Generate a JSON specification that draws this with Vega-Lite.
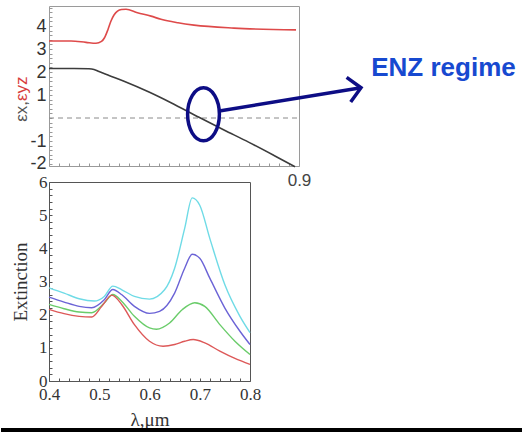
{
  "$schema": "https://vega.github.io/schema/vega-lite/v6.json",
  "autosize": {"type": "pad"},
  "padding": {"left": 0, "top": 5, "right": 0, "bottom": 0},
  "background": "white",
  "bounds": "flush",
  "spacing": 16,
  "resolve": {"scale": {"color": "independent"}},
  "config": {"axis": {"grid": false, "labelOverlap": false, "labelFlush": false}},
  "datasets": {
    "eps": [
      {"x": 0.4, "v": 2.15, "s": "ex"}, {"x": 0.45, "v": 2.15, "s": "ex"}, {"x": 0.48, "v": 2.14, "s": "ex"},
      {"x": 0.49, "v": 2.11, "s": "ex"}, {"x": 0.5, "v": 2.02, "s": "ex"}, {"x": 0.52, "v": 1.85, "s": "ex"},
      {"x": 0.55, "v": 1.6, "s": "ex"}, {"x": 0.6, "v": 1.13, "s": "ex"}, {"x": 0.644, "v": 0.665, "s": "ex"},
      {"x": 0.7, "v": 0.03, "s": "ex"}, {"x": 0.75, "v": -0.52, "s": "ex"}, {"x": 0.8, "v": -1.06, "s": "ex"},
      {"x": 0.85, "v": -1.63, "s": "ex"}, {"x": 0.892, "v": -2.12, "s": "ex"},
      {"x": 0.4, "v": 3.35, "s": "eyz"}, {"x": 0.444, "v": 3.35, "s": "eyz"}, {"x": 0.474, "v": 3.29, "s": "eyz"},
      {"x": 0.494, "v": 3.25, "s": "eyz"}, {"x": 0.505, "v": 3.33, "s": "eyz"}, {"x": 0.511, "v": 3.49, "s": "eyz"},
      {"x": 0.518, "v": 3.85, "s": "eyz"}, {"x": 0.524, "v": 4.22, "s": "eyz"}, {"x": 0.53, "v": 4.48, "s": "eyz"},
      {"x": 0.537, "v": 4.65, "s": "eyz"}, {"x": 0.545, "v": 4.72, "s": "eyz"}, {"x": 0.554, "v": 4.73, "s": "eyz"},
      {"x": 0.577, "v": 4.58, "s": "eyz"}, {"x": 0.604, "v": 4.43, "s": "eyz"}, {"x": 0.624, "v": 4.29, "s": "eyz"},
      {"x": 0.658, "v": 4.14, "s": "eyz"}, {"x": 0.69, "v": 4.04, "s": "eyz"}, {"x": 0.77, "v": 3.91, "s": "eyz"},
      {"x": 0.894, "v": 3.83, "s": "eyz"}
    ],
    "zero": [{"x": 0.4, "x2": 0.9, "v": 0}],
    "ellipse": [{"x": 0.709, "v": 0.161}],
    "arrow": [{"x": 0.7406, "v": 0.304}, {"x": 1.024, "v": 1.317}],
    "head": [{"x": 1.024, "v": 1.317}],
    "enz": [{"x": 1.189, "v": 1.813, "t": "ENZ regime"}],
    "ttl1": [{"x": 0.346, "v": 0.739, "t": "εx,"}],
    "ttl2": [{"x": 0.346, "v": 0.739, "t": "εyz"}],
    "ext": [
      {"x": 0.4, "v": 2.81, "s": "a"}, {"x": 0.43, "v": 2.65, "s": "a"}, {"x": 0.46, "v": 2.48, "s": "a"},
      {"x": 0.49, "v": 2.41, "s": "a"}, {"x": 0.51, "v": 2.55, "s": "a"}, {"x": 0.527, "v": 2.86, "s": "a"},
      {"x": 0.545, "v": 2.75, "s": "a"}, {"x": 0.57, "v": 2.55, "s": "a"}, {"x": 0.6, "v": 2.47, "s": "a"},
      {"x": 0.63, "v": 2.75, "s": "a"}, {"x": 0.65, "v": 3.4, "s": "a"}, {"x": 0.67, "v": 4.6, "s": "a"},
      {"x": 0.685, "v": 5.52, "s": "a"}, {"x": 0.7, "v": 5.3, "s": "a"}, {"x": 0.72, "v": 4.3, "s": "a"},
      {"x": 0.75, "v": 2.9, "s": "a"}, {"x": 0.78, "v": 1.95, "s": "a"}, {"x": 0.8, "v": 1.46, "s": "a"},
      {"x": 0.4, "v": 2.53, "s": "b"}, {"x": 0.43, "v": 2.38, "s": "b"}, {"x": 0.46, "v": 2.25, "s": "b"},
      {"x": 0.485, "v": 2.21, "s": "b"}, {"x": 0.51, "v": 2.45, "s": "b"}, {"x": 0.527, "v": 2.76, "s": "b"},
      {"x": 0.545, "v": 2.6, "s": "b"}, {"x": 0.57, "v": 2.25, "s": "b"}, {"x": 0.6, "v": 2.04, "s": "b"},
      {"x": 0.62, "v": 2.1, "s": "b"}, {"x": 0.65, "v": 2.65, "s": "b"}, {"x": 0.67, "v": 3.4, "s": "b"},
      {"x": 0.685, "v": 3.82, "s": "b"}, {"x": 0.7, "v": 3.7, "s": "b"}, {"x": 0.72, "v": 3.1, "s": "b"},
      {"x": 0.75, "v": 2.2, "s": "b"}, {"x": 0.78, "v": 1.5, "s": "b"}, {"x": 0.8, "v": 1.1, "s": "b"},
      {"x": 0.4, "v": 2.31, "s": "c"}, {"x": 0.43, "v": 2.18, "s": "c"}, {"x": 0.46, "v": 2.08, "s": "c"},
      {"x": 0.485, "v": 2.06, "s": "c"}, {"x": 0.51, "v": 2.35, "s": "c"}, {"x": 0.527, "v": 2.61, "s": "c"},
      {"x": 0.545, "v": 2.4, "s": "c"}, {"x": 0.57, "v": 1.95, "s": "c"}, {"x": 0.6, "v": 1.6, "s": "c"},
      {"x": 0.614, "v": 1.56, "s": "c"}, {"x": 0.64, "v": 1.75, "s": "c"}, {"x": 0.665, "v": 2.15, "s": "c"},
      {"x": 0.69, "v": 2.36, "s": "c"}, {"x": 0.71, "v": 2.25, "s": "c"}, {"x": 0.74, "v": 1.7, "s": "c"},
      {"x": 0.77, "v": 1.2, "s": "c"}, {"x": 0.8, "v": 0.8, "s": "c"},
      {"x": 0.4, "v": 2.16, "s": "d"}, {"x": 0.43, "v": 2.03, "s": "d"}, {"x": 0.46, "v": 1.95, "s": "d"},
      {"x": 0.485, "v": 1.93, "s": "d"}, {"x": 0.505, "v": 2.25, "s": "d"}, {"x": 0.525, "v": 2.59, "s": "d"},
      {"x": 0.545, "v": 2.3, "s": "d"}, {"x": 0.57, "v": 1.7, "s": "d"}, {"x": 0.6, "v": 1.2, "s": "d"},
      {"x": 0.627, "v": 1.05, "s": "d"}, {"x": 0.65, "v": 1.1, "s": "d"}, {"x": 0.67, "v": 1.2, "s": "d"},
      {"x": 0.687, "v": 1.25, "s": "d"}, {"x": 0.71, "v": 1.15, "s": "d"}, {"x": 0.74, "v": 0.9, "s": "d"},
      {"x": 0.77, "v": 0.68, "s": "d"}, {"x": 0.8, "v": 0.5, "s": "d"}
    ],
    "bar": [{"x": 0.30448, "x2": 1.34328, "v": -1.417, "v2": -1.568}]
  },
  "vconcat": [
    {
      "width": 250,
      "height": 160,
      "view": {"stroke": "#9a9a9a", "strokeWidth": 1},
      "encoding": {
        "x": {
          "field": "x", "type": "quantitative",
          "scale": {"domain": [0.4, 0.9], "nice": false, "zero": false},
          "axis": {
            "title": null, "domain": false,
            "values": [0.4,0.42,0.44,0.46,0.48,0.5,0.52,0.54,0.56,0.58,0.6,0.62,0.64,0.66,0.68,0.7,0.72,0.74,0.76,0.78,0.8,0.82,0.84,0.86,0.88,0.9],
            "labelExpr": "datum.value >= 0.899 ? '0.9' : ''",
            "labelFont": "Liberation Sans", "labelFontSize": 17, "labelColor": "#444",
            "tickSize": -3, "tickColor": "#999", "labelPadding": 9
          }
        },
        "y": {
          "field": "v", "type": "quantitative",
          "scale": {"domain": [-2.087, 4.87], "nice": false, "zero": false},
          "axis": {
            "title": null, "domain": false,
            "values": [-2,-1.8,-1.6,-1.4,-1.2,-1,-0.8,-0.6,-0.4,-0.2,0,0.2,0.4,0.6,0.8,1,1.2,1.4,1.6,1.8,2,2.2,2.4,2.6,2.8,3,3.2,3.4,3.6,3.8,4,4.2,4.4,4.6,4.8],
            "labelExpr": "(abs(datum.value - round(datum.value)) < 0.001 && datum.value != 0) ? '' + round(datum.value) : ''",
            "labelFont": "Liberation Sans",
            "labelFontSize": {"condition": {"test": "abs(datum.value - round(datum.value)) < 0.001 && datum.value != 0", "value": 18}, "value": 1},
            "labelColor": "#333",
            "tickSize": -3, "tickColor": "#999", "labelPadding": 6
          }
        }
      },
      "layer": [
        {
          "data": {"name": "zero"},
          "mark": {"type": "rule", "strokeDash": [5, 4], "color": "#8a8a8a", "strokeWidth": 1},
          "encoding": {"x2": {"field": "x2"}}
        },
        {
          "data": {"name": "eps"},
          "mark": {"type": "line", "strokeWidth": 1.6, "interpolate": "monotone"},
          "encoding": {
            "color": {"field": "s", "type": "nominal", "scale": {"domain": ["ex", "eyz"], "range": ["#3c3c3c", "#de4a4a"]}, "legend": null}
          }
        },
        {
          "data": {"name": "ellipse"},
          "mark": {"type": "point", "shape": "M -0.6,0 A 0.6,1 0 1,1 0.6,0 A 0.6,1 0 1,1 -0.6,0 Z", "size": 2809, "filled": false, "stroke": "#0d0d85", "strokeWidth": 3.5, "opacity": 1}
        },
        {
          "data": {"name": "arrow"},
          "mark": {"type": "line", "color": "#0d0d85", "strokeWidth": 3.5, "strokeCap": "butt"}
        },
        {
          "data": {"name": "head"},
          "mark": {"type": "point", "shape": "M -1,-1 L 0,0 L -1,1", "size": 625, "filled": false, "stroke": "#0d0d85", "strokeWidth": 3.5, "angle": 350.66, "opacity": 1}
        },
        {
          "data": {"name": "enz"},
          "mark": {"type": "text", "font": "Liberation Sans", "fontWeight": "bold", "fontSize": 26, "color": "#1749d0", "align": "center", "baseline": "alphabetic"},
          "encoding": {"text": {"field": "t"}}
        },
        {
          "data": {"name": "ttl1"},
          "mark": {"type": "text", "font": "Liberation Sans", "fontSize": 17, "color": "#555555", "angle": 270, "align": "right", "baseline": "middle"},
          "encoding": {"text": {"field": "t"}}
        },
        {
          "data": {"name": "ttl2"},
          "mark": {"type": "text", "font": "Liberation Sans", "fontSize": 17, "color": "#d83c3c", "angle": 270, "align": "left", "baseline": "middle"},
          "encoding": {"text": {"field": "t"}}
        }
      ]
    },
    {
      "width": 201,
      "height": 199,
      "view": {"stroke": "#555555", "strokeWidth": 1},
      "encoding": {
        "x": {
          "field": "x", "type": "quantitative",
          "scale": {"domain": [0.4, 0.8], "nice": false, "zero": false},
          "axis": {
            "title": "λ,μm", "domain": false,
            "values": [0.4,0.42,0.44,0.46,0.48,0.5,0.52,0.54,0.56,0.58,0.6,0.62,0.64,0.66,0.68,0.7,0.72,0.74,0.76,0.78,0.8],
            "labelExpr": "abs(datum.value * 10 - round(datum.value * 10)) < 0.001 ? format(datum.value, '.1f') : ''",
            "labelFont": "Liberation Serif", "labelFontSize": 17, "labelColor": "#333",
            "tickSize": -3, "tickColor": "#555", "labelPadding": 8,
            "titleFont": "Liberation Serif", "titleFontSize": 19, "titleFontWeight": "normal", "titleColor": "#333", "titlePadding": 8
          }
        },
        "y": {
          "field": "v", "type": "quantitative",
          "scale": {"domain": [0, 6], "nice": false, "zero": false},
          "axis": {
            "title": "Extinction", "domain": false,
            "values": [0,0.2,0.4,0.6,0.8,1,1.2,1.4,1.6,1.8,2,2.2,2.4,2.6,2.8,3,3.2,3.4,3.6,3.8,4,4.2,4.4,4.6,4.8,5,5.2,5.4,5.6,5.8,6],
            "labelExpr": "abs(datum.value - round(datum.value)) < 0.001 ? '' + round(datum.value) : ''",
            "labelFont": "Liberation Serif", "labelFontSize": 17, "labelColor": "#333",
            "tickSize": -3, "tickColor": "#555", "labelPadding": 5,
            "titleFont": "Liberation Serif", "titleFontSize": 19, "titleFontWeight": "normal", "titleColor": "#333", "titlePadding": 8
          }
        }
      },
      "layer": [
        {
          "data": {"name": "ext"},
          "mark": {"type": "line", "strokeWidth": 1.4, "interpolate": "monotone"},
          "encoding": {
            "color": {"field": "s", "type": "nominal", "scale": {"domain": ["a", "b", "c", "d"], "range": ["#6fdbe6", "#6b63d6", "#6acc6a", "#dd5858"]}, "legend": null}
          }
        },
        {
          "data": {"name": "bar"},
          "mark": {"type": "rect", "color": "#000000"},
          "encoding": {"x2": {"field": "x2"}, "y2": {"field": "v2"}}
        }
      ]
    }
  ]
}
